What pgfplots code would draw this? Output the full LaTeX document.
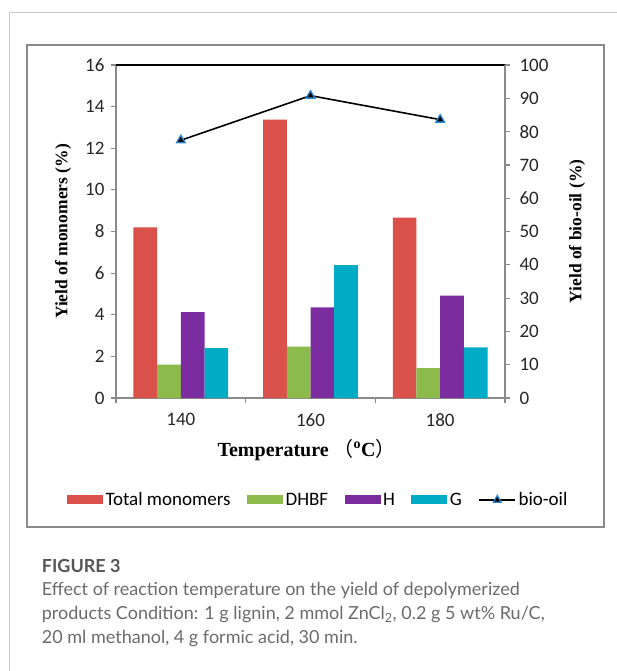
\documentclass[border=0pt]{standalone}
\usepackage{fontspec}
\setmainfont{Carlito}
\newfontfamily\timesf{Liberation Serif}
\newfontfamily\latof{Lato}
\newfontfamily\cjk{Noto Sans CJK SC}
\usepackage{pgfplots}
\pgfplotsset{compat=1.18}
\definecolor{barred}{HTML}{DA504A}
\definecolor{bargreen}{HTML}{8CBA4B}
\definecolor{barpurple}{HTML}{7B2C9E}
\definecolor{barcyan}{HTML}{00ABC5}
\definecolor{markblue}{HTML}{2A86CF}
\definecolor{axisgray}{HTML}{8A8A8A}
\definecolor{captext}{HTML}{6B6B6B}
\definecolor{capbold}{HTML}{555555}
\pgfplotsset{
  every axis/.append style={
    scale only axis, width=389pt, height=333pt,
    at={(116pt,-398pt)}, anchor=south west,
    xmin=-0.5, xmax=2.5,
    axis line style={axisgray, line width=1.4pt},
    tick style={axisgray, line width=1.2pt},
    tick align=outside, major tick length=5pt,
    tick label style={font=\fontsize{19}{22}\selectfont, text=black!85},
    /pgf/number format/assume math mode=true,
    label style={font=\timesf\bfseries\fontsize{17.5}{20}\selectfont},
  },
  bioimg/.style={legend image code/.code={
    \draw[##1, sharp plot, mark repeat=2, mark phase=2] plot coordinates {(0pt,0pt) (18pt,0pt) (36pt,0pt)};}},
}
\begin{document}
\begin{tikzpicture}
\path[use as bounding box] (0,0) rectangle (617pt,-671pt);
\draw[black!22, line width=1pt] (9pt,-671pt) -- (9pt,-13pt) -- (617pt,-13pt);
\draw[axisgray, line width=1.4pt] (27pt,-45pt) rectangle (604pt,-527pt);

\begin{axis}[
    ymin=0, ymax=16, ytick={0,2,...,16},
    axis x line*=bottom, axis y line*=left,
    yticklabel style={xshift=-3pt},
    xtick={-0.5,0.5,1.5,2.5}, xticklabels={},
    extra x ticks={0,1,2}, extra x tick labels={140,160,180},
    extra x tick style={major tick length=0pt, tick label style={yshift=-12pt}},
    extra y ticks={16}, extra y tick labels={},
    extra y tick style={grid=major, major grid style={black, line width=1.6pt}},
    ylabel={Yield of monomers (\%)},
    ylabel style={at={(axis description cs:-0.136,0.5)}, anchor=center},
    xlabel={Temperature\ {\cjk\mdseries （}\textsuperscript{o}C{\cjk\mdseries ）}},
    xlabel style={at={(axis description cs:0.49,-0.156)}, anchor=center,
      font=\timesf\bfseries\fontsize{20}{22}\selectfont},
    ybar=0pt, bar width=23.7pt,
    legend style={at={(axis description cs:0.5206,-0.306)}, anchor=center,
      draw=none, fill=none, legend columns=-1,
      font=\fontsize{19}{22}\selectfont,
      /tikz/every even column/.append style={column sep=14pt},
      nodes={inner xsep=2.5pt, inner ysep=1pt}},
    legend image code/.code={\draw[#1, draw=none] (0pt,-4.5pt) rectangle (36pt,4.5pt);},
]
\addplot[fill=barred, draw=none] coordinates {(0,8.2) (1,13.37) (2,8.67)};
\addplot[fill=bargreen, draw=none] coordinates {(0,1.6) (1,2.47) (2,1.43)};
\addplot[fill=barpurple, draw=none] coordinates {(0,4.13) (1,4.35) (2,4.92)};
\addplot[fill=barcyan, draw=none] coordinates {(0,2.4) (1,6.38) (2,2.43)};
\addlegendentry{Total monomers}
\addlegendentry{DHBF}
\addlegendentry{H}
\addlegendentry{G}
\addlegendimage{bioimg, black, line width=1.6pt, mark=triangle*, mark size=4.5pt,
  mark options={fill=black, draw=markblue, line width=1.2pt}}
\addlegendentry{bio-oil}
\end{axis}

\begin{axis}[
    ymin=0, ymax=100, ytick={0,10,...,100},
    axis y line*=right, axis x line=none,
    yticklabel style={xshift=6pt},
    ylabel={Yield of bio-oil (\%)},
    ylabel style={at={(axis description cs:1.185,0.5)}, anchor=center, rotate=0},
]
\addplot[black, line width=1.6pt, mark=triangle*, mark size=5pt,
  mark options={fill=black, draw=markblue, line width=1.3pt}]
  coordinates {(0,77.4) (1,90.8) (2,83.6)};
\end{axis}

\node[anchor=base west, inner sep=0pt, text=capbold, font=\latof\bfseries\fontsize{18}{20}\selectfont]
  at (41.7pt,-572.7pt) {FIGURE 3};
\begin{scope}[every node/.style={anchor=base west, inner sep=0pt, text=captext, font=\latof\fontsize{18}{24}\selectfont}]
\node at (41.7pt,-595pt) {Effect of reaction temperature on the yield of depolymerized};
\node at (41.7pt,-619pt) {products Condition: 1 g lignin, 2 mmol ZnCl\textsubscript{2}, 0.2 g 5 wt\% Ru/C,};
\node at (41.7pt,-643pt) {20 ml methanol, 4 g formic acid, 30 min.};
\end{scope}
\end{tikzpicture}
\end{document}
